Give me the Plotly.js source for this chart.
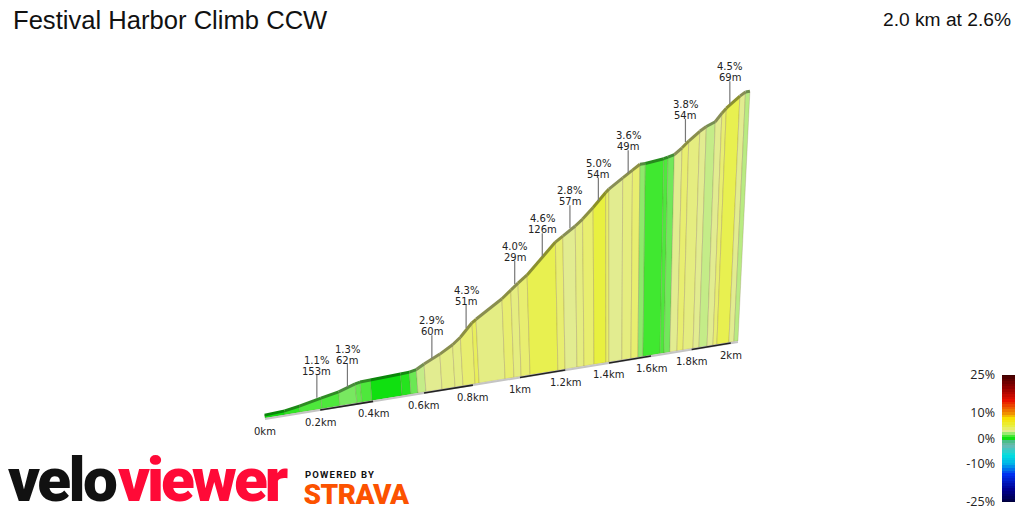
<!DOCTYPE html>
<html><head><meta charset="utf-8">
<script src="https://cdn.plot.ly/plotly-3.0.1.min.js"></script>
<style>
html,body{margin:0;padding:0;background:#fff}
#c{width:1024px;height:512px}
.annotation[data-index="0"] text{letter-spacing:-2.5px}
.annotation[data-index="1"] text{letter-spacing:-3px}
.annotation[data-index="2"] text{letter-spacing:1.2px}
.annotation[data-index="3"] text{letter-spacing:-.5px}
</style></head><body><div id="c"></div>
<script>
const chartTitle = 'Festival Harbor Climb CCW';
const chartSummary = '2.0 km at 2.6%';
// slice boundaries along the climb: distance (km), elevation gain (m)
const distanceKm = [0,.072,.126,.207,.274,.338,.357,.396,.513,.548,.576,.608,.673,.726,.759,.809,.826,.936,.974,1.005,1.044,1.167,1.199,1.253,1.285,1.331,1.386,1.400,1.461,1.504,1.537,1.561,1.644,1.663,1.692,1.727,1.757,1.807,1.837,1.878,1.908,1.928,1.990,2.016,2.037];
const elevationM = [.6,.8,1.3,2.2,2.9,4.0,4.2,4.3,4.5,4.6,4.9,5.8,7.3,8.8,10.1,12.7,13.3,16.7,18.2,19.4,20.8,26.7,27.7,29.4,30.6,32.7,35.4,36.0,37.9,39.2,40.2,40.2,40.6,40.8,41.1,42.3,43.5,45.2,46.0,46.7,48.3,49.2,51.3,52.0,52.0];
// colour grade of each slice (%)
const sliceGrade = [0,.6,1.1,1.1,1.7,1.4,1.1,0,.4,1.5,2.4,3,3.3,3.3,3.8,4.3,3.3,3.8,3.4,3.8,4.6,3.8,3,3.4,3.8,5,4,3,3.4,3.8,1.9,.9,1.1,1.6,3,3.8,3.4,3,2.4,3,3.8,4.6,3,2.3];
// section labels
const labelKm = [.192,.308,.640,.784,.991,1.110,1.230,1.354,1.485,1.742,1.944];
const labelElev = [2.2,3.4,6.5,11.6,19.1,24,28.9,33.7,38.5,43.2,49.7];
const labelGrade = ['1.1%','1.3%','2.9%','4.3%','4.0%','4.6%','2.8%','5.0%','3.6%','3.8%','4.5%'];
const labelLength = ['153m','62m','60m','51m','29m','126m','57m','54m','49m','54m','69m'];
// distance marks
const tickKm = [0,.2,.4,.6,.8,1,1.2,1.4,1.6,1.8,2];
const tickText = ['0km','0.2km','0.4km','0.6km','0.8km','1km','1.2km','1.4km','1.6km','1.8km','2km'];
const endKm = 2.037;
// grade colour scale
const scaleGrades = [-25,-20,-14,-10,-6.5,-2.5,-.6,0,.9,1.7,2.4,3,3.8,4.6,5,8,10,15,20,25];
const scaleColors = ['#00003c','#000090','#0030f0','#00b0e8','#00e0e0','#70b8b0','#40c080','#10e010','#40e830','#78e860','#c4ec88','#e2ec90','#e8ee70','#e8f050','#e8f040','#f8e000','#f09000','#e81000','#900000','#400000'];
const legendGrades = [-25,-24,-23,-22,-21,-20,-19,-18,-17,-16,-15,-14,-13,-12,-11,-10,-9,-8,-7,-6,-5,-4,-3,-2,-1,0,1,2,3,4,5,6,7,8,9,10,11,12,13,14,15,16,17,18,19,20,21,22,23,24,25];
const legendTicks = [-25,-10,0,10,25];
const legendTickText = ['-25%','-10%','0%','10%','25%'];

const hex = c => [1,3,5].map(i => parseInt(c.slice(i,i+2),16));
function gradeRGB(g){
  let i = 0; while (i < scaleGrades.length-2 && g > scaleGrades[i+1]) i++;
  const t = Math.max(0,Math.min(1,(g-scaleGrades[i])/(scaleGrades[i+1]-scaleGrades[i])));
  const a = hex(scaleColors[i]), b = hex(scaleColors[i+1]);
  return a.map((v,k)=>Math.round(v+(b[k]-v)*t));
}
// perspective view of the climb wall: distance + elevation onto the page axes
function view(km, m){
  const u = 281.6*km/(1+.1045*km), bx = 265+u, by = 418-.163*u, h = m*4.8;
  return [bx+(bx-610)/2667*h, by-h];
}
const traces = [];
for (let i=0;i<sliceGrade.length;i++){
  const c = gradeRGB(sliceGrade[i]);
  const p = [view(distanceKm[i],0),view(distanceKm[i],elevationM[i]),view(distanceKm[i+1],elevationM[i+1]),view(distanceKm[i+1],0),view(distanceKm[i],0)];
  traces.push({type:'scatter',mode:'lines',x:p.map(q=>q[0]),y:p.map(q=>q[1]),fill:'toself',fillcolor:`rgb(${c})`,line:{color:'rgba(130,105,80,.24)',width:1},hoverinfo:'skip'});
}
for (let i=0;i<sliceGrade.length;i++){
  const c = gradeRGB(sliceGrade[i]).map(v=>Math.round(v*.6));
  const p = [view(distanceKm[i],elevationM[i]),view(distanceKm[i+1],elevationM[i+1])];
  traces.push({type:'scatter',mode:'lines',x:p.map(q=>q[0]),y:p.map(q=>q[1]),line:{color:`rgb(${c})`,width:3},hoverinfo:'skip'});
}
const ends = [view(0,0),view(endKm,0)];
traces.push({type:'scatter',mode:'lines',x:ends.map(q=>q[0]),y:ends.map(q=>q[1]+1),line:{color:'#c4c4c4',width:2},hoverinfo:'skip'});
for (let i=1;i+1<tickKm.length;i+=2){
  const p = [view(tickKm[i],0),view(tickKm[i+1],0)];
  traces.push({type:'scatter',mode:'lines',x:p.map(q=>q[0]),y:p.map(q=>q[1]+1),line:{color:'#222',width:1.6},hoverinfo:'skip'});
}
labelKm.forEach((k,i)=>{
  const p = view(k,labelElev[i]);
  traces.push({type:'scatter',mode:'lines',x:[p[0],p[0]],y:[p[1]-1,p[1]-24],line:{color:'#777',width:1.2},hoverinfo:'skip'});
});
traces.push({type:'heatmap',xaxis:'x2',yaxis:'y2',x:[0,1],y:legendGrades,z:legendGrades.map(g=>[g,g]),zmin:-25,zmax:25,
  colorscale:scaleGrades.map((g,i)=>[(g+25)/50,scaleColors[i]]),showscale:false,hoverinfo:'skip'});

const small = {family:'DejaVu Sans',size:10,color:'#222'};
const annotations = [
  {x:61,y:479,text:'velo',showarrow:false,xanchor:'center',yanchor:'middle',font:{family:'Roboto',size:62,weight:900,color:'#111'}},
  {x:201,y:479,text:'viewer',showarrow:false,xanchor:'center',yanchor:'middle',font:{family:'Roboto',size:62,weight:900,color:'#ff0a37'}},
  {x:340,y:474,text:'POWERED BY',showarrow:false,xanchor:'center',yanchor:'middle',font:{family:'Roboto',size:9.5,weight:700,color:'#111'}},
  {x:356.5,y:494,text:'STRAVA',showarrow:false,xanchor:'center',yanchor:'middle',font:{family:'Roboto',size:28,weight:900,color:'#fc5200'}},
  {x:1013,y:19,text:chartSummary,showarrow:false,xanchor:'right',yanchor:'middle',font:{family:'Liberation Sans',size:19.2,color:'#111'}}
];
tickKm.forEach((k,i)=>{
  const p = view(k,0);
  annotations.push({x:p[0],y:p[1],text:tickText[i],showarrow:false,xanchor:'center',yanchor:'middle',yshift:-13,font:small});
});
labelKm.forEach((k,i)=>{
  const p = view(k,labelElev[i]);
  annotations.push({x:p[0],y:p[1],text:labelLength[i],showarrow:false,yanchor:'bottom',xanchor:'center',yshift:21,font:small,borderpad:0});
  annotations.push({x:p[0],y:p[1],text:labelGrade[i],showarrow:false,yanchor:'bottom',xanchor:'center',yshift:32,font:small,borderpad:0});
});
const layout = {
  width:1024,height:512,margin:{l:0,r:0,t:0,b:0},paper_bgcolor:'#fff',plot_bgcolor:'#fff',showlegend:false,
  title:{text:chartTitle,x:13/1024,xanchor:'left',y:1-20/512,yanchor:'middle',font:{family:'Liberation Sans',size:25.6,color:'#111'}},
  xaxis:{range:[0,1024],domain:[0,1],visible:false,fixedrange:true},
  yaxis:{range:[512,0],domain:[0,1],visible:false,fixedrange:true},
  xaxis2:{domain:[1002/1024,1015/1024],anchor:'y2',range:[-.5,1.5],visible:false},
  yaxis2:{domain:[10/512,137/512],anchor:'x2',range:[-25,25],tickmode:'array',tickvals:legendTicks,ticktext:legendTickText,ticks:'',showgrid:false,zeroline:false,showline:false,ticklabelstandoff:6,tickfont:{family:'Open Sans',size:12.5,color:'#222'}},
  annotations
};
Plotly.newPlot('c',traces,layout,{staticPlot:true,displayModeBar:false});
</script></body></html>
